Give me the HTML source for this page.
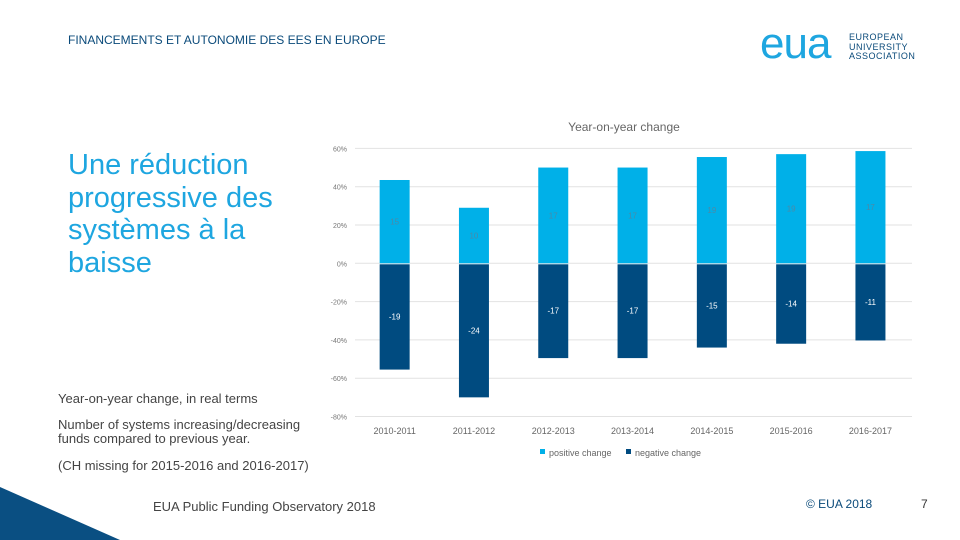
<!DOCTYPE html>
<html><head><meta charset="utf-8"><style>
body{margin:0;width:960px;height:540px;background:#fff;position:relative;overflow:hidden;font-family:"Liberation Sans",sans-serif}
.t{position:absolute;white-space:nowrap}
</style></head><body>
<div class="t" style="left:68px;top:33px;font-size:12px;color:#0a4a7a">FINANCEMENTS ET AUTONOMIE DES EES EN EUROPE</div>
<div class="t" style="left:760px;top:22px;font-size:44px;color:#1ea6e0;letter-spacing:-1px;line-height:44px">eua</div>
<div class="t" style="left:849px;top:33px;font-size:9px;line-height:9.5px;color:#0a4a7a;letter-spacing:0.5px">EUROPEAN<br>UNIVERSITY<br>ASSOCIATION</div>
<div class="t" style="left:68px;top:149px;font-size:29px;line-height:32.5px;color:#1ea6e0">Une réduction<br>progressive des<br>systèmes à la<br>baisse</div>
<div class="t" style="left:58px;top:391px;font-size:13px;color:#444">Year-on-year change, in real terms</div>
<div class="t" style="left:58px;top:418px;font-size:13px;line-height:14px;color:#444">Number of systems increasing/decreasing<br>funds compared to previous year.</div>
<div class="t" style="left:58px;top:458px;font-size:13px;color:#444">(CH missing for 2015-2016 and 2016-2017)</div>
<div class="t" style="left:153px;top:499px;font-size:13px;color:#444">EUA Public Funding Observatory 2018</div>
<div class="t" style="left:806px;top:497px;font-size:12px;color:#0a4a7a">© EUA 2018</div>
<div class="t" style="left:921px;top:497px;font-size:12px;color:#333">7</div>
<svg style="position:absolute;left:0;top:0" width="960" height="540"><polygon points="0,487 120,540 0,540" fill="#0a4f82"/></svg>
<svg id="chart" style="position:absolute;left:0;top:0" width="960" height="540"></svg>
<script>
const categories=["2010-2011","2011-2012","2012-2013","2013-2014","2014-2015","2015-2016","2016-2017"];
const positiveValues=[43.5,29,50,50,55.5,57,58.6];
const negativeValues=[-55.5,-70,-49.5,-49.5,-44,-42,-40.3];
const positiveLabels=["15","10","17","17","19","19","17"];
const negativeLabels=["-19","-24","-17","-17","-15","-14","-11"];
const tickValues=[60,40,20,0,-20,-40,-60,-80];
const svg=document.getElementById('chart');
const NS='http://www.w3.org/2000/svg';
const x0=355,band=79.3,bw=30;
function y(v){return 263.3-v*1.915;}
function xc(i){return x0+band*(i+0.5);}
function mk(t,a,txt){const e=document.createElementNS(NS,t);for(const k in a)e.setAttribute(k,a[k]);if(txt!==undefined)e.textContent=txt;svg.appendChild(e);return e;}
let e=mk('text',{x:624,y:131,'text-anchor':'middle','font-size':12,fill:'#666','font-family':'Liberation Sans'},'Year-on-year change');


tickValues.forEach(v=>{
 let g=mk('line',{x1:355,x2:912,y1:y(v),y2:y(v),stroke:'#e2e2e2','stroke-width':1});
 
 
 let t=mk('text',{x:347,y:y(v)+3,'text-anchor':'end','font-size':7,fill:'#777','font-family':'Liberation Sans'},v+'%');
 
 
});
categories.forEach((c,i)=>{
 const cx=xc(i);
 let p=mk('rect',{x:cx-bw/2,y:y(positiveValues[i]),width:bw,height:y(0)-y(positiveValues[i]),fill:'#00b0e8'});
 
 
 let n=mk('rect',{x:cx-bw/2,y:y(0)+1,width:bw,height:y(negativeValues[i])-y(0)-1,fill:'#004b80'});
 
 
 let pl=mk('text',{x:cx,y:(y(positiveValues[i])+y(0))/2+3,'text-anchor':'middle','font-size':8,fill:'#4a8aa8','font-family':'Liberation Sans'},positiveLabels[i]);
 
 
 let nl=mk('text',{x:cx,y:(y(negativeValues[i])+y(0))/2+3,'text-anchor':'middle','font-size':8,fill:'#fff','font-family':'Liberation Sans'},negativeLabels[i]);
 
 
 let cl=mk('text',{x:cx,y:434,'text-anchor':'middle','font-size':9,fill:'#666','font-family':'Liberation Sans'},c);
 
 
});
let l1=mk('rect',{x:540,y:449,width:5,height:5,fill:'#00b0e8'});


let l2=mk('text',{x:549,y:456,'font-size':9,fill:'#666','font-family':'Liberation Sans'},'positive change');


let l3=mk('rect',{x:626,y:449,width:5,height:5,fill:'#004b80'});


let l4=mk('text',{x:635,y:456,'font-size':9,fill:'#666','font-family':'Liberation Sans'},'negative change');


</script>
</body></html>
